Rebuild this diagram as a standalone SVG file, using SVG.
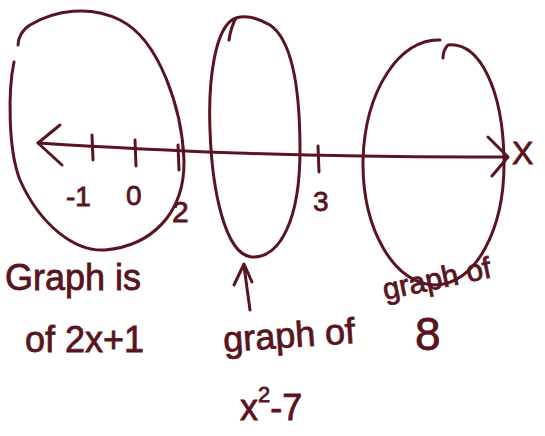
<svg xmlns="http://www.w3.org/2000/svg" width="545" height="436" viewBox="0 0 545 436">
<style>
.ink{fill:none;stroke:#5a1420;stroke-width:3;stroke-linecap:round;stroke-linejoin:round}
.t{fill:#5a1420;stroke:#5a1420;stroke-width:0.8;font-family:"Liberation Sans",sans-serif}
</style>
<rect width="545" height="436" fill="#fff"/>
<g id="loops">
<path class="ink" d="M14,62 C8,90 8,150 20,180 C40,225 75,252 105,250 C150,246 185,215 184,160 C182,110 160,40 120,20 C90,5 55,10 30,25 C22,30 18,38 18,45"/>
<path class="ink" d="M236,18 C215,25 208,80 210,130 C212,190 225,255 252,257 C280,258 300,220 300,150 C300,90 292,40 270,25 C258,18 246,15 236,18 M236,18 C232,25 230,33 229,40"/>
<path class="ink" d="M440,40 C400,38 365,90 363,160 C362,230 395,285 435,285 C475,285 505,230 504,160 C503,90 480,42 448,45 C445,48 443,52 443,58"/>
</g>
<g id="axis">
<path class="ink" d="M38,143 C150,150 300,158 505,157" stroke-width="3.5"/>
<path class="ink" d="M60,125 L38,143 L62,165" stroke-width="3.5"/>
<path class="ink" d="M488,137 L508,157 L492,176"/>
<path class="ink" d="M92,135 L93,160 M135,140 L136,166 M178,145 L179,170 M318,146 L319,172"/>
<path class="ink" d="M250,310 L244,266 M234,285 L244,264 L252,282"/>
</g>
<g id="labels">
<text class="t" x="66" y="206" font-size="28">-1</text>
<text class="t" x="126" y="205" font-size="28">0</text>
<text class="t" x="172" y="222" font-size="30">2</text>
<text class="t" x="313" y="211" font-size="28">3</text>
<text class="t" x="512" y="164" font-size="32">X</text>
<text class="t" x="5" y="290" font-size="36">Graph is</text>
<text class="t" x="25" y="352" font-size="36">of 2x+1</text>
<text class="t" x="224" y="352" font-size="36" transform="rotate(-4 224 352)">graph of</text>
<text class="t" x="240" y="420" font-size="36">x<tspan font-size="22" dy="-18">2</tspan><tspan dy="18">-7</tspan></text>
<text class="t" x="385" y="300" font-size="30" transform="rotate(-12 385 300)">graph of</text>
<text class="t" x="415" y="350" font-size="46">8</text>
</g>
</svg>
